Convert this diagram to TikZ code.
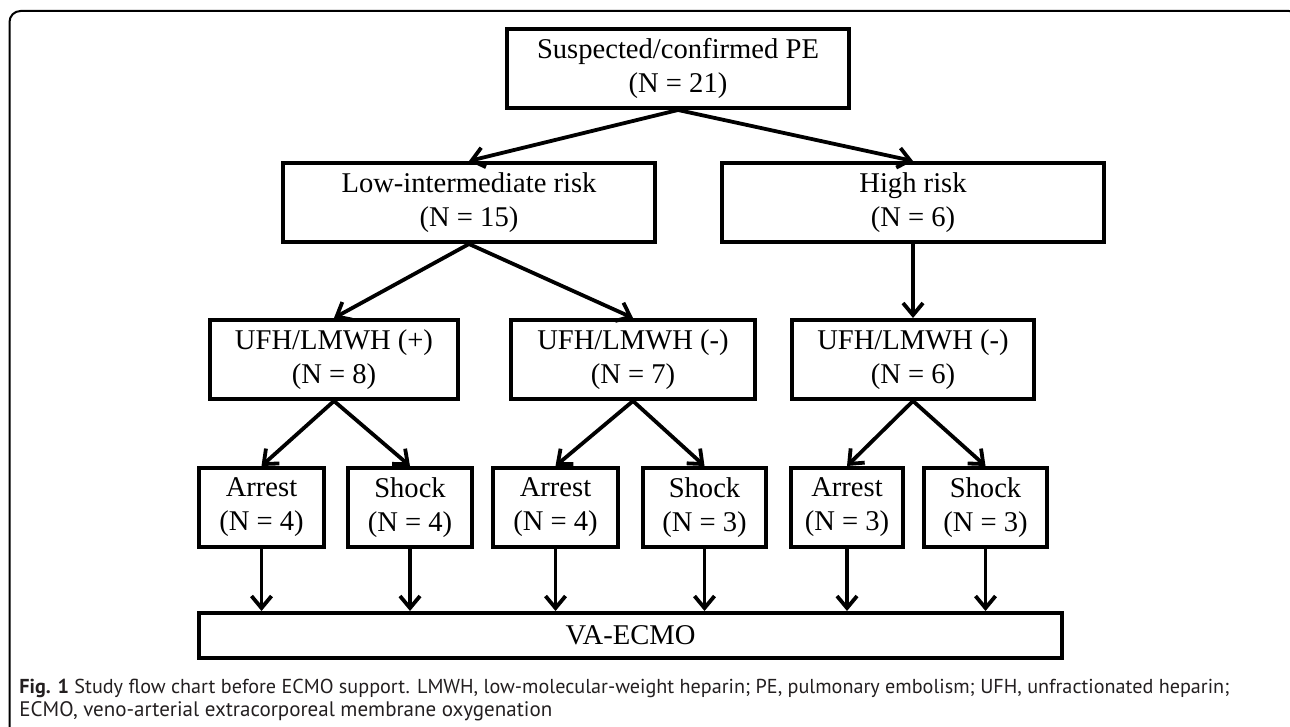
\documentclass[tikz,border=0pt]{standalone}
\usepackage{fontspec}
\usepackage{graphicx}
\setmainfont{Liberation Serif}
\newfontfamily\capfont{PT Sans}
\usetikzlibrary{arrows.meta}
\definecolor{captxt}{RGB}{35,31,32}
\tikzset{
  box/.style={draw=black, line width=2pt, inner sep=0pt, align=center,
    font=\fontsize{14.3pt}{17pt}\selectfont, minimum height=39.5pt},
  arr/.style={line width=1.9pt, -{Straight Barb[length=6pt,width=10pt,line width=1.9pt]}},
  captext/.style={anchor=base west, inner sep=0pt, text=captxt,
    font=\capfont\fontsize{10.5pt}{12pt}\selectfont}
}
\newlength{\capscale}
\begin{document}
\begin{tikzpicture}[x=0.5pt,y=-0.5pt]
\useasboundingbox (0,0) rectangle (1290,727);
\begin{scope}
\clip (0,0) rectangle (1290,727);
\draw[line width=1pt, rounded corners=5.5pt] (9.5,740) -- (9.5,11) -- (1300,11) -- (1300,740);
\end{scope}
% nodes
\node[box, minimum width=171pt] (top) at (678,68.5) {Suspected/confirmed PE\\(N = 21)};
\node[box, minimum width=186pt] (low) at (469,202.5) {Low-intermediate risk\\(N = 15)};
\node[box, minimum width=191pt] (high) at (913,202.5) {High risk\\(N = 6)};
\node[box, minimum width=124pt] (ufhp) at (334,359.5) {UFH/LMWH (+)\\(N = 8)};
\node[box, minimum width=122pt] (ufhm) at (633,359.5) {UFH/LMWH (-)\\(N = 7)};
\node[box, minimum width=121pt] (ufhr) at (913,359.5) {UFH/LMWH (-)\\(N = 6)};
\node[box, minimum width=62.5pt] (a1) at (261.5,507.5) {Arrest\\(N = 4)};
\node[box, minimum width=62pt] (s1) at (410,507.5) {Shock\\(N = 4)};
\node[box, minimum width=62.5pt] (a2) at (555.5,507.5) {Arrest\\(N = 4)};
\node[box, minimum width=61.5pt] (s2) at (704.5,507.5) {Shock\\(N = 3)};
\node[box, minimum width=56pt] (a3) at (847,507.5) {Arrest\\(N = 3)};
\node[box, minimum width=61.5pt] (s3) at (985.5,507.5) {Shock\\(N = 3)};
\node[box, minimum width=431.5pt, minimum height=22.5pt] (va) at (630.5,635.5) {VA-ECMO};
% connectors
\draw[arr] (top.south) -- (low.north);
\draw[arr] (top.south) -- (high.north);
\draw[arr] (low.south) -- (ufhp.north);
\draw[arr] (low.south) -- (ufhm.north);
\draw[arr] (high.south) -- (ufhr.north);
\draw[arr] (ufhp.south) -- (a1.north);
\draw[arr] (ufhp.south) -- (s1.north);
\draw[arr] (ufhm.south) -- (a2.north);
\draw[arr] (ufhm.south) -- (s2.north);
\draw[arr] (ufhr.south) -- (a3.north);
\draw[arr] (ufhr.south) -- (s3.north);
\foreach \n in {a1,s1,a2,s2,a3,s3}
  \draw[arr] (\n.south) -- (\n.south |- va.north);
% caption
\node[captext] (cap1) at (19,693) {\resizebox{605pt}{!}{\textbf{Fig. 1} Study flow chart before ECMO support. LMWH, low-molecular-weight heparin; PE, pulmonary embolism; UFH, unfractionated heparin;}};
\node[captext] (cap2) at (19,716) {ECMO, veno-arterial extracorporeal membrane oxygenation};
\end{tikzpicture}
\end{document}
